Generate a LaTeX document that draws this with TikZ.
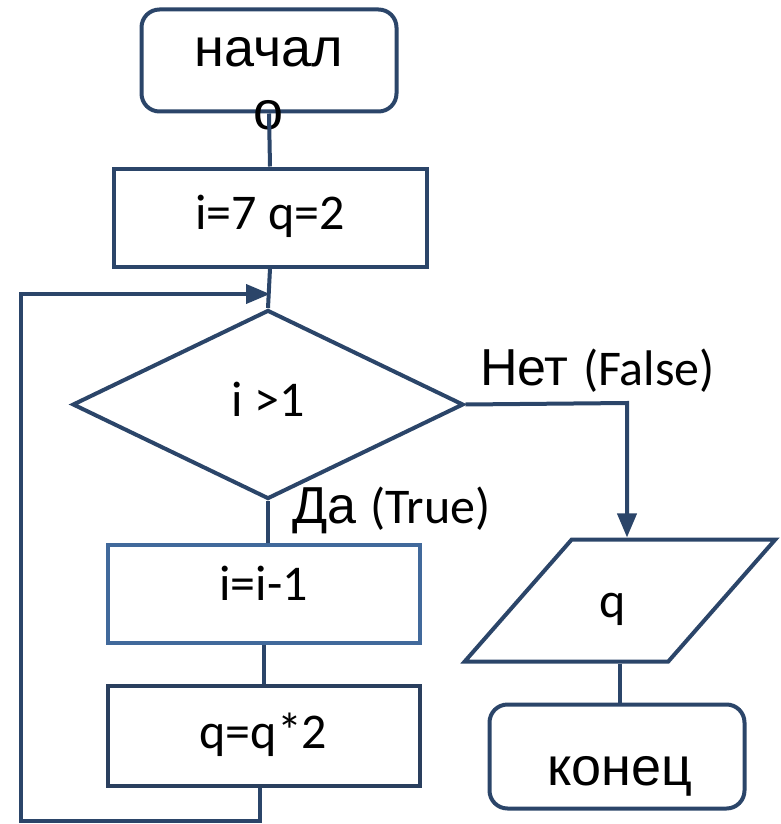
\documentclass[tikz,border=0pt]{standalone}
\usepackage{fontspec}
\setmainfont{Liberation Sans}
\newfontfamily\calfont{Carlito}
\usetikzlibrary{arrows.meta,shapes.geometric}
\definecolor{ln}{HTML}{2B4569}
\definecolor{lnlight}{HTML}{41699B}
\definecolor{lndark}{HTML}{2A3F5E}
\begin{document}
\begin{tikzpicture}[x=1pt,y=-1pt,
  line width=4pt,
  cyr/.style={font=\fontsize{54}{65}\selectfont, inner sep=0pt},
  lat/.style={font=\calfont\fontsize{50}{60}\selectfont},
  termbox/.style={draw=ln, line width=4pt, rounded corners=18pt, inner sep=0pt},
  procbox/.style={draw=ln, line width=4pt, inner sep=0pt, lat, text depth=10pt},
  conn/.style={draw=ln, line width=4pt},
  arr/.style={conn, -{Triangle[length=24pt 0,width=19pt 0]}}]
\useasboundingbox (0,0) rectangle (781,824);

% shapes
\node[termbox, minimum width=255pt, minimum height=102pt] (start) at (269,60.5) {};
\node[procbox, minimum width=313pt, minimum height=98pt] (init) at (270,217.5) {i=7 q=2};
\node[draw=ln, line width=4pt, diamond, inner sep=0pt, minimum width=391pt, minimum height=189pt, lat, text depth=10pt] (dec) at (268,404.5) {i >1};
\node[procbox, draw=lnlight, text depth=20pt, minimum width=312pt, minimum height=98pt] (dec1) at (263.5,593.5) {i=i-1};
\node[procbox, draw=lndark, minimum width=312pt, minimum height=100pt] (qq) at (263.5,735.5) {q=q*2};
\node[draw=ln, line width=4pt, trapezium, trapezium left angle=75.6, trapezium right angle=104.4, trapezium stretches=true, inner sep=0pt, minimum width=311pt, minimum height=122pt, lat, text height=43pt, text depth=10pt] (out) at (620,600.5) {\hspace*{-14pt}q};
\node[termbox, minimum width=255pt, minimum height=104pt] (end) at (617,756.5) {};

% texts of terminals
\node[cyr, anchor=base] (tstart1) at (269,67) {начал};
\node[cyr, anchor=base] (tstart2) at (269,130) {о};
\node[cyr, anchor=base] (tend) at (620,785) {конец};

% coordinates
\coordinate (merge) at (270,294);
\coordinate (lb) at (20.5,820.5);
\coordinate (nobend) at (627,403);

% connectors
\draw[conn] (start.south) -- (init.north);
\draw[conn] (init.south) -- (dec.north);
\draw[conn] (dec.south) -- (dec.south |- dec1.north);
\draw[conn] (dec1.south) -- (qq.north);
\draw[arr] ([xshift=-3.5pt]qq.south) -- ([xshift=-3.5pt]qq.south |- lb) -- (lb) -- (lb |- merge) -- (merge);
\draw[arr] (dec.east) -- (nobend) -- (nobend |- out.north);
\draw[conn] (out.south) -- (out.south |- end.north);

% branch labels
\node[anchor=base west, inner sep=0pt] (lno) at (478,385) {\fontsize{52}{60}\selectfont Нет \calfont\fontsize{50}{55}\selectfont(False)};
\node[anchor=base west, inner sep=0pt] (lyes) at (290,523) {\fontsize{52}{60}\selectfont Да \calfont\fontsize{50}{55}\selectfont(True)};
\end{tikzpicture}
\end{document}
